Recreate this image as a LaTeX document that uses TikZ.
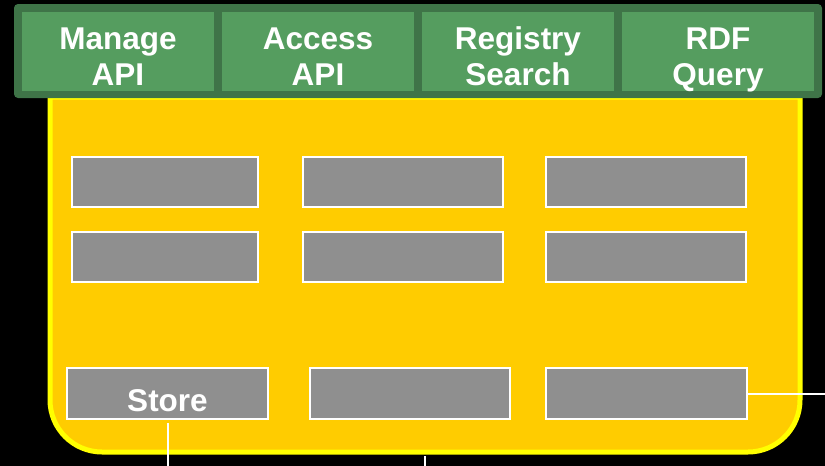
\documentclass[tikz,border=0pt]{standalone}
\usepackage{fontspec}
\setmainfont{Liberation Sans}
\definecolor{cellgreen}{HTML}{559D5F}
\definecolor{bargreen}{HTML}{3F7448}
\definecolor{boxgray}{HTML}{8F8F8F}
\definecolor{gold}{HTML}{FFCC00}
\definecolor{brightyellow}{HTML}{FFFF00}
\begin{document}
\begin{tikzpicture}[x=1pt,y=-1pt,
  cell/.style={fill=cellgreen, draw=none, inner sep=0pt, minimum width=192pt, minimum height=79pt,
    text=white, font=\fontsize{31.5}{36}\selectfont\bfseries, align=center},
  gbox/.style={fill=boxgray, draw=white, line width=2pt, inner sep=0pt, minimum height=50pt,
    text=white, font=\fontsize{31.5}{36}\selectfont\bfseries, text height=36pt, text depth=0pt},
  wire/.style={draw=white, line width=2pt}]
\useasboundingbox (0,0) rectangle (825,466);
\fill[black] (0,0) rectangle (825,466);
% yellow container
\draw[fill=gold, draw=brightyellow, line width=5pt]
  (50,97) -- (50,400) arc[start angle=180, end angle=90, radius=52]
  -- (748,452) arc[start angle=90, end angle=0, radius=52] -- (800,97) -- cycle;
% green bar
\fill[bargreen, rounded corners=4pt] (14,4) rectangle (822,98);
\node[cell] (manage) at (118,51.5) {\rule{0pt}{32pt}Manage\\\smash{API}};
\node[cell] (access) at (318,51.5) {\rule{0pt}{32pt}Access\\\smash{API}};
\node[cell] (registry) at (518,51.5) {\rule{0pt}{32pt}Registry\\\smash{Search}};
\node[cell] (rdf) at (718,51.5) {\rule{0pt}{32pt}RDF\\\smash{Query}};
% gray boxes
\node[gbox, minimum width=186pt] (a1) at (165,182) {};
\node[gbox, minimum width=200pt] (a2) at (403,182) {};
\node[gbox, minimum width=200pt] (a3) at (646,182) {};
\node[gbox, minimum width=186pt] (b1) at (165,257) {};
\node[gbox, minimum width=200pt] (b2) at (403,257) {};
\node[gbox, minimum width=200pt] (b3) at (646,257) {};
\node[gbox, minimum width=201pt, minimum height=51pt] (store) at (167.5,393.5) {Store};
\node[gbox, minimum width=200pt, minimum height=51pt] (c2) at (410,393.5) {};
\node[gbox, minimum width=201pt, minimum height=51pt] (c3) at (646.5,393.5) {};
% connectors
\coordinate (storeout) at (167.5,466);
\coordinate (midtop) at (425,456);
\coordinate (midout) at (425,466);
\coordinate (rightout) at (825,393.5);
\draw[wire, shorten <=3pt] (store.south) -- (storeout);
\draw[wire] (midtop) -- (midout);
\draw[wire] (c3.east) -- (rightout);
\end{tikzpicture}
\end{document}
